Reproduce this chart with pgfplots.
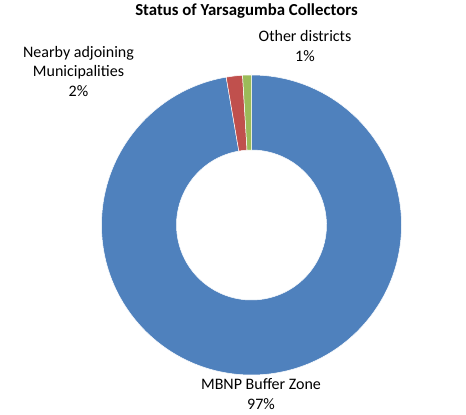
\documentclass[border=0pt]{standalone}
\usepackage{fontspec}
\setmainfont{Carlito}
\usepackage{pgfplots}
\usepackage{pgfplotstable}
\pgfplotsset{compat=1.18}
\definecolor{cBlue}{HTML}{4F81BD}
\definecolor{cRed}{HTML}{C0504D}
\definecolor{cGreen}{HTML}{9BBB59}

\pgfplotstableread[col sep=comma]{
label,value
MBNP Buffer Zone,97.3
Nearby adjoining Municipalities,1.75
Other districts,0.95
}\shares

\newcommand\ring[3]{%
  \fill[#1, draw=white, line width=0.5bp, shift={(axis cs:251.5,190)}]
    (#2:150bp) arc[start angle=#2, end angle=#3, radius=150bp]
    -- (#3:75bp) arc[start angle=#3, end angle=#2, radius=75bp] -- cycle;}

\begin{document}
\begin{tikzpicture}
\pgfplotstablegetelem{0}{value}\of\shares \let\vA\pgfplotsretval
\pgfplotstablegetelem{1}{value}\of\shares \let\vB\pgfplotsretval
\pgfplotstablegetelem{2}{value}\of\shares \let\vC\pgfplotsretval
\pgfmathsetmacro\tot{\vA+\vB+\vC}
\pgfmathsetmacro\fA{\vA/\tot}
\pgfmathsetmacro\fB{(\vA+\vB)/\tot}
\pgfmathsetmacro\aA{90}
\pgfmathsetmacro\aB{90-360*\fA}
\pgfmathsetmacro\aC{90-360*\fB}
\pgfmathsetmacro\aD{90-360}
\begin{axis}[
  scale only axis, width=466bp, height=415bp,
  xmin=0, xmax=466, ymin=0, ymax=415,
  hide axis, clip=false,
]
\path (axis cs:0,0) rectangle (axis cs:466,415);
\ring{cBlue}{\aA}{\aB}
\ring{cRed}{\aB}{\aC}
\ring{cGreen}{\aC}{\aD}
\node[font=\bfseries\fontsize{16.8bp}{19bp}\selectfont] at (axis cs:246.5,404) {Status of Yarsagumba Collectors};
\node[align=center, font=\fontsize{16bp}{19.5bp}\selectfont] at (axis cs:305,369) {Other districts\\1\%};
\node[align=center, font=\fontsize{16bp}{19.5bp}\selectfont] at (axis cs:78.5,343.5) {Nearby adjoining\\Municipalities\\2\%};
\node[align=center, font=\fontsize{16bp}{19.5bp}\selectfont] at (axis cs:261,21) {MBNP Buffer Zone\\97\%};
\end{axis}
\end{tikzpicture}
\end{document}
